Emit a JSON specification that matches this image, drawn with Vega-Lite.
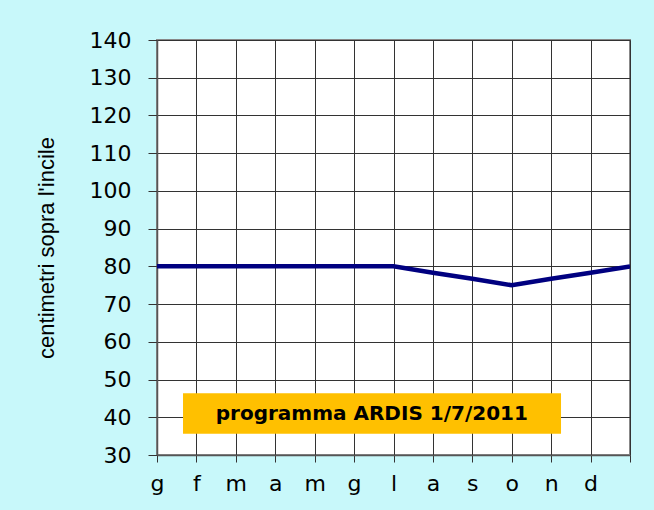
{
  "$schema": "https://vega.github.io/schema/vega-lite/v6.json",
  "autosize": {"type": "none"},
  "width": 473,
  "height": 415,
  "padding": {"left": 157, "top": 40, "right": 24, "bottom": 55},
  "background": "#c8f8fa",
  "config": {
    "view": {"fill": "white", "stroke": "#888888", "strokeWidth": 2},
    "axis": {"labelColor": "black", "gridColor": "#333333", "gridWidth": 1, "gridOpacity": 1, "tickColor": "#333333", "domainColor": "#555555", "domainWidth": 1.5, "labelOverlap": false, "labelFlush": false, "labelBound": false, "grid": true},
    "axisX": {"values": [0,1,2,3,4,5,6,7,8,9,10,11,12], "tickCount": 12, "labelExpr": "['g','f','m','a','m','g','l','a','s','o','n','d',''][datum.value]", "labelFont": "DejaVu Sans", "labelFontSize": 22, "labelPadding": 11, "tickSize": 7},
    "axisY": {"values": [30,40,50,60,70,80,90,100,110,120,130,140], "tickCount": 11, "labelFont": "DejaVu Sans", "labelFontSize": 22, "labelPadding": 17, "tickSize": 9, "titleFont": "Liberation Sans", "titleFontSize": 22, "titleFontWeight": "normal", "titleColor": "black", "titlePadding": 31}
  },
  "datasets": {
    "livello": [
      {"mese": 0, "cm": 80}, {"mese": 1, "cm": 80}, {"mese": 2, "cm": 80},
      {"mese": 3, "cm": 80}, {"mese": 4, "cm": 80}, {"mese": 5, "cm": 80},
      {"mese": 6, "cm": 80}, {"mese": 7, "cm": 78.3}, {"mese": 8, "cm": 76.7},
      {"mese": 9, "cm": 75}, {"mese": 10, "cm": 76.7}, {"mese": 11, "cm": 78.3},
      {"mese": 12, "cm": 80}
    ],
    "box": [{"x1": 0.66, "x2": 10.25, "y1": 35.6, "y2": 46.4, "xc": 5.45, "yc": 41, "label": "programma ARDIS 1/7/2011"}]
  },
  "layer": [
    {
      "data": {"name": "box"},
      "mark": {"type": "rect", "fill": "#ffc000"},
      "encoding": {
        "x": {"field": "x1", "type": "quantitative", "scale": {"domain": [0, 12], "nice": false, "zero": false}, "axis": {"title": null}},
        "x2": {"field": "x2"},
        "y": {"field": "y1", "type": "quantitative", "scale": {"domain": [30, 140], "nice": false, "zero": false}, "axis": {"title": "centimetri sopra l'incile"}},
        "y2": {"field": "y2"}
      }
    },
    {
      "data": {"name": "box"},
      "mark": {"type": "text", "font": "DejaVu Sans", "fontWeight": "bold", "fontSize": 20, "color": "black", "align": "center", "baseline": "middle"},
      "encoding": {
        "x": {"field": "xc", "type": "quantitative", "axis": {"title": null}},
        "y": {"field": "yc", "type": "quantitative", "axis": {"title": "centimetri sopra l'incile"}},
        "text": {"field": "label"}
      }
    },
    {
      "data": {"name": "livello"},
      "mark": {"type": "line", "color": "#000080", "strokeWidth": 4.5, "clip": true},
      "encoding": {
        "x": {"field": "mese", "type": "quantitative", "axis": {"title": null}},
        "y": {"field": "cm", "type": "quantitative", "axis": {"title": "centimetri sopra l'incile"}}
      }
    }
  ]
}
